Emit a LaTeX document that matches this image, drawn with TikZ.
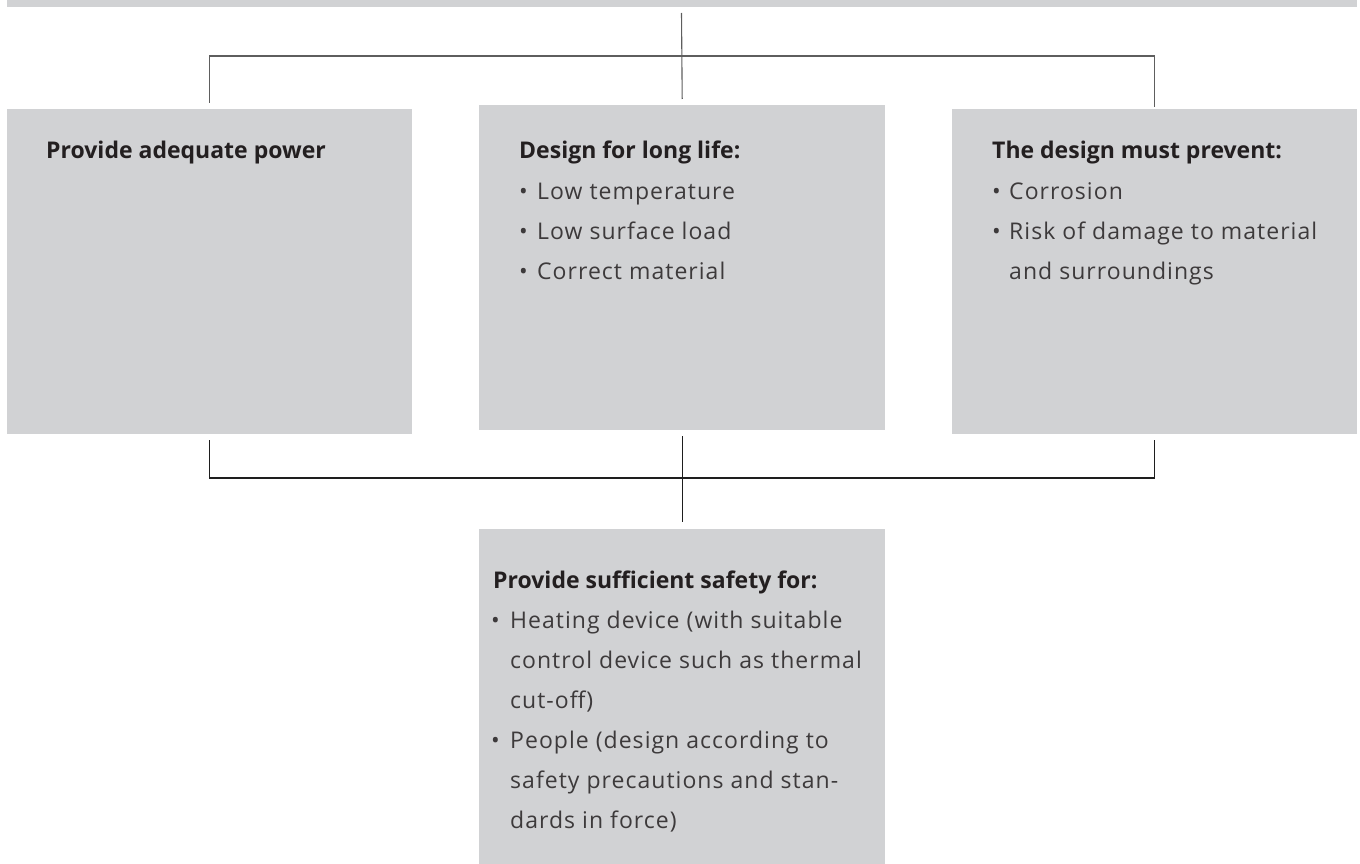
\documentclass[tikz,border=0pt]{standalone}
\usepackage{fontspec}
\setmainfont{Open Sans}
\newfontfamily\bodyfont[LetterSpace=4.5]{Open Sans}
\definecolor{boxgray}{HTML}{D1D2D4}
\definecolor{txt}{HTML}{231F20}
\definecolor{topln}{HTML}{5E5E5E}
\definecolor{botln}{HTML}{1E1E1E}
\begin{document}
\begin{tikzpicture}[x=1pt,y=-1pt,
  panel/.style={fill=boxgray, draw=none, anchor=north west, inner sep=0pt},
  ttl/.style={anchor=base west, inner sep=0pt, text=txt, font=\fontsize{23}{28}\selectfont\bfseries},
  itm/.style={anchor=base west, inner sep=0pt, text=txt!88, font=\bodyfont\fontsize{23}{28}\selectfont},
  topline/.style={draw=topln, line width=1.1pt},
  botline/.style={draw=botln, line width=1.4pt},
]
\useasboundingbox (0,0) rectangle (1360,864);
\newcommand{\bul}[1]{\makebox[#1][l]{\textbullet}}

% top bar
\node[panel, minimum width=1350pt, minimum height=7pt] (topbar) at (7,0) {};

% boxes
\node[panel, minimum width=405pt, minimum height=325pt] (Lbox) at (7,109) {};
\node[panel, minimum width=406pt, minimum height=325pt] (Mbox) at (479,105) {};
\node[panel, minimum width=405pt, minimum height=325pt] (Rbox) at (952,109) {};
\node[panel, minimum width=406pt, minimum height=335pt] (Sbox) at (479,529) {};

% connectors top
\coordinate (tc) at (681.5,13);
\coordinate (tj) at (681.5,56);
\draw[topline] (tc) -- ([yshift=6pt]Mbox.north);
\draw[topline] ([yshift=6pt]Lbox.north) |- (tj) -| ([yshift=2pt]Rbox.north);

% connectors bottom
\coordinate (bj) at (681.5,478);
\draw[botline] ([yshift=-6pt]Lbox.south) |- (bj) -| ([yshift=-6pt]Rbox.south);
\draw[botline] ([yshift=-6pt]Mbox.south) -- ([yshift=7pt]Sbox.north);

% left text
\node[ttl] (Lt) at (46,159) {Provide adequate power};

% middle text
\node[ttl] (Mt) at (519,159) {Design for long life:};
\node[itm] (M1) at (519,199) {\bul{18pt}Low temperature};
\node[itm] (M2) at (519,239) {\bul{18pt}Low surface load};
\node[itm] (M3) at (519,279) {\bul{18pt}Correct material};

% right text
\node[ttl] (Rt) at (992,159) {The design must prevent:};
\node[itm] (R1) at (992,199) {\bul{17pt}Corrosion};
\node[itm] (R2) at (992,239) {\bul{17pt}Risk of damage to material};
\node[itm] (R3) at (1009,279) {and surroundings};

% bottom text
\node[ttl] (St) at (493,588) {Provide sufficient safety for:};
\node[itm] (S1) at (491,628) {\bul{19pt}Heating device (with suitable};
\node[itm] (S2) at (510,668) {control device such as thermal};
\node[itm] (S3) at (510,708) {cut-off)};
\node[itm] (S4) at (491,748) {\bul{19pt}People (design according to};
\node[itm] (S5) at (510,788) {safety precautions and stan-};
\node[itm] (S6) at (510,828) {dards in force)};
\end{tikzpicture}
\end{document}
